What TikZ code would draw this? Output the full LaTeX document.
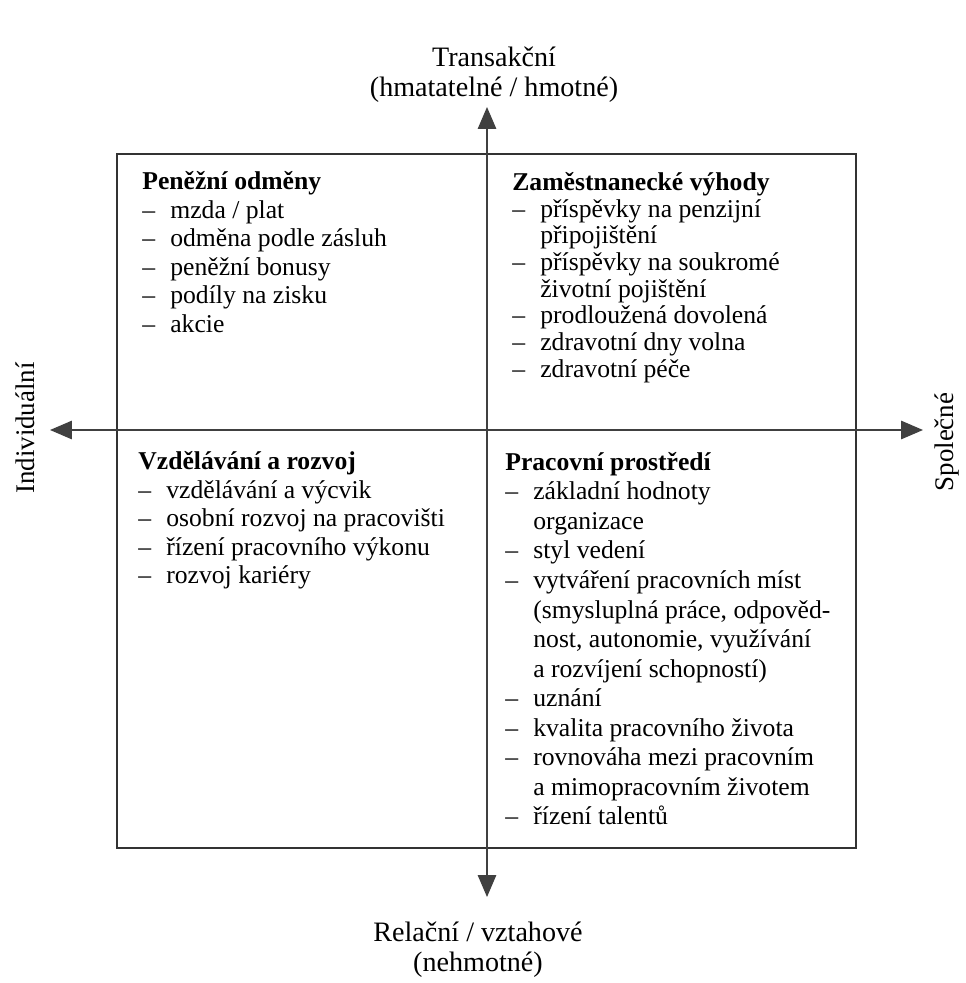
\documentclass[tikz,border=0pt]{standalone}
\usepackage{fontspec}
\setmainfont{Liberation Serif}
\usetikzlibrary{arrows.meta}
\newcommand{\qitem}[1]{\makebox[0.56cm][l]{--}#1}
\newcommand{\qcont}[1]{\hspace*{0.56cm}#1}

\begin{document}
\begin{tikzpicture}[x=0.02cm, y=-0.02cm, >={Triangle[length=4.4mm, width=3.7mm]},
  frame/.style={draw=black!80, line width=1.1pt},
  axis/.style={<->, draw=black!75, line width=0.8pt},
  quad/.style={anchor=north west, align=left, inner sep=0pt, font=\fontsize{14.6}{16.3}\selectfont},
  pole/.style={align=center, inner sep=0pt, font=\fontsize{16}{17.2}\selectfont}]
\useasboundingbox (0,0) rectangle (965,983);
% frame of the four quadrants
\draw[frame] (117,154) rectangle (856,848);
% axis ends
\coordinate (top) at (487,107);
\coordinate (bot) at (487,897);
\coordinate (lft) at (50,430);
\coordinate (rgt) at (923,430);
\draw[axis] (bot) -- (top);
\draw[axis] (lft) -- (rgt);
% pole labels
\node[pole] (trans) at (494,75) {Transakční\\(hmatatelné / hmotné)};
\node[pole] (rel) at (478,950) {Relační / vztahové\\(nehmotné)};
\node[pole, rotate=90, font=\fontsize{15.3}{17}\selectfont] (indiv) at (25,428) {Individuální};
\node[pole, rotate=90, font=\fontsize{15.3}{17}\selectfont] (spol) at (947,442) {Společné};
% quadrant contents
\node[quad] (money) at (142,171) {\textbf{Peněžní odměny}\\
  \qitem{mzda / plat}\\
  \qitem{odměna podle zásluh}\\
  \qitem{peněžní bonusy}\\
  \qitem{podíly na zisku}\\
  \qitem{akcie}};
\node[quad, font=\fontsize{14.6}{15.2}\selectfont] (benef) at (512,172) {\textbf{Zaměstnanecké výhody}\\
  \qitem{příspěvky na penzijní}\\
  \qcont{připojištění}\\
  \qitem{příspěvky na soukromé}\\
  \qcont{životní pojištění}\\
  \qitem{prodloužená dovolená}\\
  \qitem{zdravotní dny volna}\\
  \qitem{zdravotní péče}};
\node[quad] (learn) at (138,451) {\textbf{Vzdělávání a rozvoj}\\
  \qitem{vzdělávání a výcvik}\\
  \qitem{osobní rozvoj na pracovišti}\\
  \qitem{řízení pracovního výkonu}\\
  \qitem{rozvoj kariéry}};
\node[quad, font=\fontsize{14.6}{16.8}\selectfont] (env) at (505,452) {\textbf{Pracovní prostředí}\\
  \qitem{základní hodnoty}\\
  \qcont{organizace}\\
  \qitem{styl vedení}\\
  \qitem{vytváření pracovních míst}\\
  \qcont{(smysluplná práce, odpověd-}\\
  \qcont{nost, autonomie, využívání}\\
  \qcont{a rozvíjení schopností)}\\
  \qitem{uznání}\\
  \qitem{kvalita pracovního života}\\
  \qitem{rovnováha mezi pracovním}\\
  \qcont{a mimopracovním životem}\\
  \qitem{řízení talentů}};
\end{tikzpicture}
\end{document}
